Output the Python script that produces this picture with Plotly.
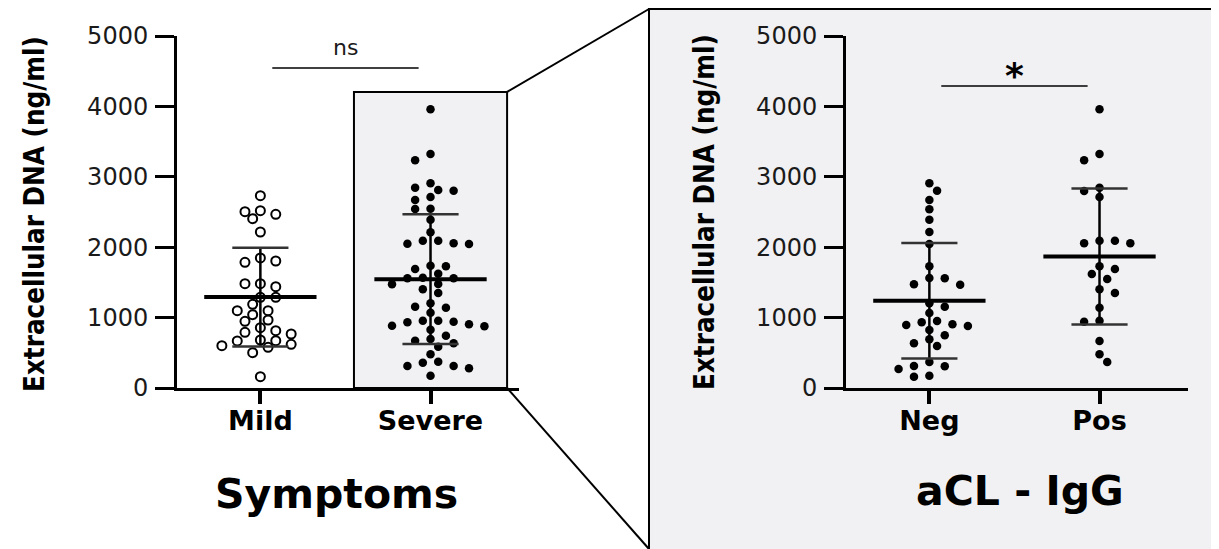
import numpy as np
import plotly.graph_objects as go

# ---------------- data ----------------
symptom_groups = ["Mild", "Severe"]
acl_groups = ["Neg", "Pos"]

mild = [2732, 2519, 2467, 2405, 2505, 2216, 1804, 1785, 1847, 1482, 1439, 1482,
        1288, 1288, 1188, 1098, 1098, 1042, 947, 966, 857, 791, 814, 767, 682,
        668, 620, 578, 672, 601, 502, 161]
severe = [3958, 3324, 3234, 2907, 2845, 2803, 2812, 2713, 2670, 2547, 2543, 2391,
          2211, 2092, 2050, 2045, 2055, 2092, 1728, 1738, 1690, 1624, 1558, 1558,
          1567, 1473, 1477, 1349, 1402, 1203, 1141, 1155, 1070, 956, 942, 885, 904,
          933, 956, 876, 828, 743, 696, 672, 587, 635, 479, 374, 313, 360, 280, 313, 175]
neg = [2907, 2803, 2670, 2538, 2391, 2216, 2045, 1728, 1558, 1562, 1468, 1473,
       1155, 1203, 1065, 895, 952, 904, 933, 881, 824, 748, 691, 635, 597, 369,
       313, 270, 308, 161, 175]
pos = [3958, 3324, 3234, 2845, 2798, 2713, 2092, 2055, 2055, 2092, 1728, 1690,
       1619, 1548, 1349, 1402, 1141, 942, 956, 668, 479, 369]

y_ticks = [0, 1000, 2000, 3000, 4000, 5000]
y_title = "Extracellular DNA (ng/ml)"
left_title = "Symptoms"
right_title = "aCL - IgG"
left_sig = "ns"
right_sig = "*"

# ---------------- geometry ----------------
W, H = 1219, 549
OFS_X, OFS_Y = 8, 8       # page body margin of the browser
X_RANGE = [-0.49, 1.52]
Y_RANGE = [0, 5000]
Y_PX = (36, 388)          # top, bottom in page pixels
LEFT_PX = (177, 519)
RIGHT_PX = (846, 1188)
PX_PER_CAT = (LEFT_PX[1] - LEFT_PX[0]) / (X_RANGE[1] - X_RANGE[0])
PX_PER_VAL = (Y_PX[1] - Y_PX[0]) / (Y_RANGE[1] - Y_RANGE[0])

def px2paper_x(p):
    return (p - OFS_X) / W

def px2paper_y(p):
    return 1 - (p - OFS_Y) / H

def data2paper(xv, yv, xpx):
    fx = (xv - X_RANGE[0]) / (X_RANGE[1] - X_RANGE[0])
    fy = (yv - Y_RANGE[0]) / (Y_RANGE[1] - Y_RANGE[0])
    px = xpx[0] + fx * (xpx[1] - xpx[0])
    py = Y_PX[1] - fy * (Y_PX[1] - Y_PX[0])
    return px2paper_x(px), px2paper_y(py)

def swarm(vals, half_step_px=7.7, dist_px=11.5):
    """Greedy beeswarm on a half-step grid; returns x offsets in category units."""
    n = len(vals)
    order = sorted(range(n), key=lambda i: -vals[i])
    placed = []
    offs = [0.0] * n
    for k, i in enumerate(order):
        yp = vals[i] * PX_PER_VAL
        cands = [0]
        for s in range(1, 12):
            cands += ([-s, s] if k % 2 == 0 else [s, -s])
        for c in cands:
            xp = c * half_step_px
            ok = True
            for (px_, py_) in placed:
                if (px_ - xp) ** 2 + ((py_ - yp) * 1.3) ** 2 < dist_px ** 2:
                    ok = False
                    break
            if ok:
                placed.append((xp, yp))
                offs[i] = xp / PX_PER_CAT
                break
    return offs

fig = go.Figure()

def add_group(vals, center, xa, ya, hollow):
    offs = swarm(vals)
    xs = [center + o for o in offs]
    if hollow:
        marker = dict(symbol="circle-open", size=9, color="black", line=dict(width=2, color="black"))
    else:
        marker = dict(symbol="circle", size=8.5, color="black")
    fig.add_trace(go.Scatter(x=xs, y=vals, mode="markers", marker=marker,
                             xaxis=xa, yaxis=ya, showlegend=False, hoverinfo="y"))
    m = float(np.mean(vals))
    sd = float(np.std(vals, ddof=1))
    fig.add_trace(go.Scatter(x=[center, center], y=[m - sd, m + sd], mode="lines",
                             line=dict(color="black", width=2.5), xaxis=xa, yaxis=ya,
                             showlegend=False, hoverinfo="skip"))
    for v in (m - sd, m + sd):
        fig.add_trace(go.Scatter(x=[center - 0.165, center + 0.165], y=[v, v], mode="lines",
                                 line=dict(color="#333333", width=2.5), xaxis=xa, yaxis=ya,
                                 showlegend=False, hoverinfo="skip"))
    fig.add_trace(go.Scatter(x=[center - 0.33, center + 0.33], y=[m, m], mode="lines",
                             line=dict(color="black", width=4), xaxis=xa, yaxis=ya,
                             showlegend=False, hoverinfo="skip"))

add_group(mild, 0, "x", "y", True)
add_group(severe, 1, "x", "y", False)
add_group(neg, 0, "x2", "y2", False)
add_group(pos, 1, "x2", "y2", False)

tick_font = dict(family="DejaVu Sans", size=24, color="#1a1a1a")
cat_font = dict(family="DejaVu Sans", size=27, color="black", weight="bold")

def yaxis_cfg(anchor):
    return dict(range=Y_RANGE, domain=[px2paper_y(Y_PX[1]), px2paper_y(Y_PX[0])],
                tickvals=y_ticks, ticktext=[str(t) for t in y_ticks],
                ticks="outside", ticklen=19, tickwidth=3, tickcolor="black",
                showline=True, linecolor="black", linewidth=3, showgrid=False,
                zeroline=False, tickfont=tick_font, ticklabelstandoff=2,
                automargin=False, anchor=anchor, fixedrange=True)

def xaxis_cfg(px, labels, anchor):
    return dict(range=X_RANGE, domain=[px2paper_x(px[0]), px2paper_x(px[1])],
                tickvals=[0, 1], ticktext=labels, ticks="outside", ticklen=13,
                tickwidth=4, tickcolor="black", showline=True, linecolor="black",
                linewidth=3, showgrid=False, zeroline=False, tickfont=cat_font,
                ticklabelstandoff=-6,
                automargin=False, anchor=anchor, fixedrange=True)

shapes = []
shapes.append(dict(type="rect", xref="paper", yref="paper",
                   x0=px2paper_x(649), x1=px2paper_x(1250), y0=px2paper_y(580), y1=px2paper_y(9),
                   fillcolor="#f1f1f3", line=dict(color="black", width=2), layer="below"))
box_x0, box_x1, box_top = 0.55, 1.45, 4205
shapes.append(dict(type="rect", xref="x", yref="y", x0=box_x0, x1=box_x1, y0=0, y1=box_top,
                   fillcolor="#f1f1f3", line=dict(color="black", width=2), layer="below"))
bx, by = data2paper(box_x1, box_top, LEFT_PX)
shapes.append(dict(type="line", xref="paper", yref="paper", x0=bx, y0=by,
                   x1=px2paper_x(649), y1=px2paper_y(9), line=dict(color="black", width=2)))
bx, by = data2paper(box_x1, 0, LEFT_PX)
shapes.append(dict(type="line", xref="paper", yref="paper", x0=bx, y0=by,
                   x1=px2paper_x(649), y1=px2paper_y(549), line=dict(color="black", width=2)))
shapes.append(dict(type="line", xref="x", yref="y", x0=0.07, x1=0.93, y0=4545, y1=4545,
                   line=dict(color="black", width=1.5)))
shapes.append(dict(type="line", xref="x2", yref="y2", x0=0.07, x1=0.93, y0=4290, y1=4290,
                   line=dict(color="black", width=1.5)))

ytitle_font = dict(family="DejaVu Sans Condensed, DejaVu Sans, sans-serif",
                   size=27.5, color="black", weight="bold")
annotations = [
    dict(text=left_sig, xref="x", yref="y", x=0.5, y=4830, showarrow=False,
         xanchor="center", yanchor="middle",
         font=dict(family="DejaVu Sans", size=22, color="#1a1a1a")),
    dict(text=right_sig, xref="x2", yref="y2", x=0.5, y=4440, showarrow=False,
         xanchor="center", yanchor="middle",
         font=dict(family="DejaVu Sans", size=36, color="black", weight="bold")),
    dict(text=y_title, xref="paper", yref="paper", x=px2paper_x(34), y=px2paper_y(214),
         textangle=-90, showarrow=False, xanchor="center", yanchor="middle", font=ytitle_font),
    dict(text=y_title, xref="paper", yref="paper", x=px2paper_x(704), y=px2paper_y(212),
         textangle=-90, showarrow=False, xanchor="center", yanchor="middle", font=ytitle_font),
    dict(text=left_title, xref="paper", yref="paper", x=px2paper_x(337), y=px2paper_y(494),
         showarrow=False, xanchor="center", yanchor="middle",
         font=dict(family="DejaVu Sans", size=41, color="black", weight="bold")),
    dict(text=right_title, xref="paper", yref="paper", x=px2paper_x(1020), y=px2paper_y(491),
         showarrow=False, xanchor="center", yanchor="middle",
         font=dict(family="DejaVu Sans", size=41, color="black", weight="bold")),
]

fig.update_layout(
    width=W, height=H,
    margin=dict(l=0, r=0, t=0, b=0, pad=0, autoexpand=False),
    paper_bgcolor="white", plot_bgcolor="rgba(0,0,0,0)",
    xaxis=xaxis_cfg(LEFT_PX, symptom_groups, "y"),
    yaxis=yaxis_cfg("x"),
    xaxis2=xaxis_cfg(RIGHT_PX, acl_groups, "y2"),
    yaxis2=yaxis_cfg("x2"),
    shapes=shapes, annotations=annotations,
    showlegend=False,
)

fig.write_html("out.html")
